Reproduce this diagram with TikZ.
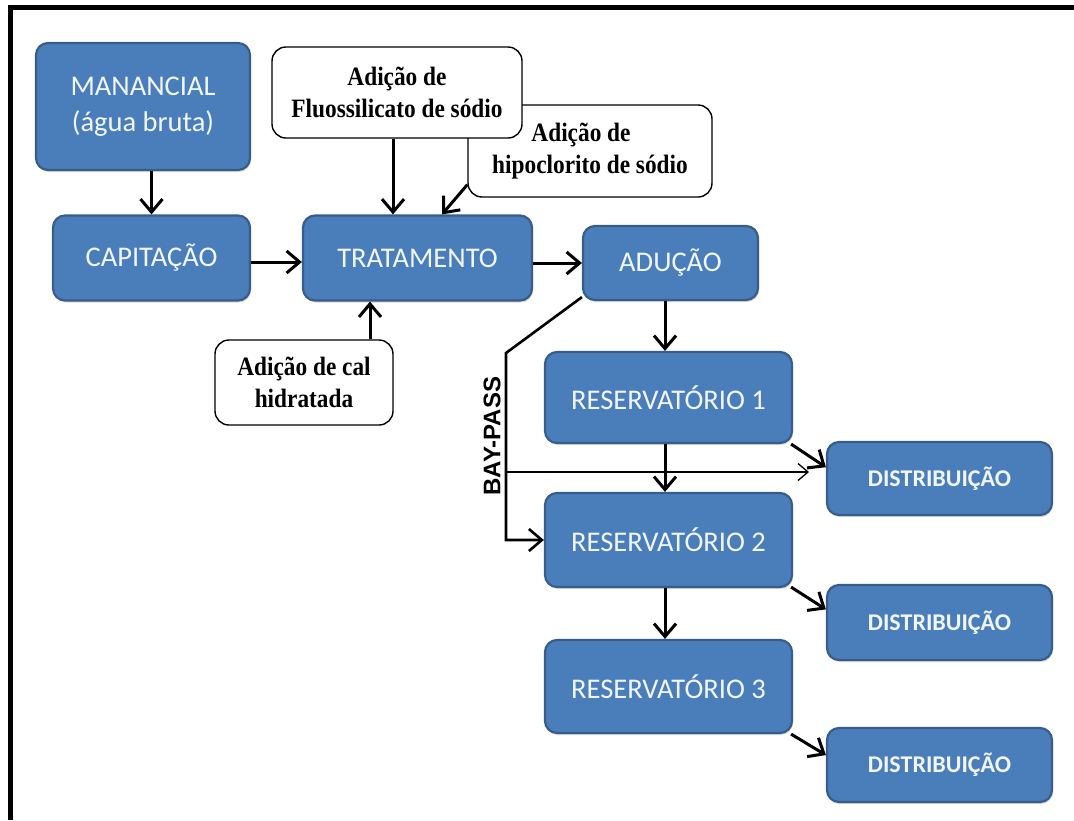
\documentclass[tikz,border=0pt]{standalone}
\usepackage{fontspec}
\setmainfont{Carlito}
\newfontfamily\serifc[FakeStretch=0.88]{Liberation Serif}
\newfontfamily\sansb{Liberation Sans}
\usetikzlibrary{arrows.meta,calc,shadows}
\definecolor{boxblue}{HTML}{4A7EBB}
\definecolor{boxedge}{HTML}{385D8A}
\definecolor{boxtext}{HTML}{F2F6FB}
\tikzset{
  bluebox/.style={draw=boxedge, line width=2.2pt, fill=boxblue, rounded corners=12pt,
    text=boxtext, align=center, inner sep=0pt,
    drop shadow={shadow xshift=1pt, shadow yshift=-2pt, opacity=0.3},
    font=\fontsize{28.5}{36}\selectfont},
  distbox/.style={bluebox, font=\bfseries\fontsize{24}{30}\selectfont},
  notebox/.style={draw=black, line width=1.4pt, fill=white, rounded corners=14pt,
    align=center, inner sep=0pt, text=black,
    font=\serifc\bfseries\fontsize{26.5}{31.5}\selectfont},
  arr/.style={draw=black, line width=3pt, -{Straight Barb[length=13pt,width=22pt]}},
  thinarr/.style={draw=black, line width=1.3pt, -{Straight Barb[length=10pt,width=17pt]}},
}
\begin{document}
\begin{tikzpicture}[x=1pt,y=-1pt]
\useasboundingbox (0,0) rectangle (1074,820);
% border (top and left edges visible)
\draw[line width=5pt] (10.5,820) -- (10.5,7.5) -- (1074,7.5);

% blue process boxes
\node[bluebox, minimum width=214pt, minimum height=127pt] (man) at (143,106.5) {MANANCIAL\\(água bruta)};
\node[bluebox, minimum width=197pt, minimum height=85pt] (cap) at (151.5,258) {CAPITAÇÃO};
\node[bluebox, minimum width=229pt, minimum height=85pt] (trat) at (417.5,258) {TRATAMENTO};
\node[bluebox, minimum width=175pt, minimum height=74pt] (adu) at (670.5,263) {ADUÇÃO};
\node[bluebox, minimum width=247pt, minimum height=91pt] (res1) at (668.5,397.5) {RESERVATÓRIO 1};
\node[bluebox, minimum width=247pt, minimum height=94pt] (res2) at (668.5,540) {RESERVATÓRIO 2};
\node[bluebox, minimum width=247pt, minimum height=93pt] (res3) at (668.5,686.5) {RESERVATÓRIO 3};
\node[distbox, minimum width=225pt, minimum height=73pt] (d1) at (939.5,478.5) {DISTRIBUIÇÃO};
\node[distbox, minimum width=225pt, minimum height=75pt] (d2) at (939.5,622.5) {DISTRIBUIÇÃO};
\node[distbox, minimum width=225pt, minimum height=74pt] (d3) at (939.5,765) {DISTRIBUIÇÃO};

% white note boxes
\node[notebox, minimum width=244pt, minimum height=92pt] (hipo) at (590,151) {Adição de\kern18pt\\hipoclorito de sódio};
\node[notebox, minimum width=250pt, minimum height=91pt] (fluo) at (397,92.5) {Adição de\\Fluossilicato de sódio};
\node[notebox, minimum width=178pt, minimum height=85pt] (cal) at (304,382.5) {Adição de cal\\hidratada};

% helper x positions
\coordinate (xa) at (393,0);
\coordinate (xb) at (442,0);
\coordinate (xc) at (370,0);
\coordinate (xr) at (665,0);
\coordinate (bp1) at (506,353);
\coordinate (bp2) at (506,472);
\coordinate (bpend) at (809,472);

% main flow
\draw[arr] (man.south -| cap.north) -- (cap.north);
\draw[arr] (cap.east |- 0,262) -- (trat.west |- 0,262);
\draw[arr] (trat.east |- adu.west) -- (adu.west);
\draw[arr] (adu.south -| xr) -- (res1.north -| xr);
\draw[arr] (res1.south -| xr) -- (res2.north -| xr);
\draw[arr] (res2.south -| xr) -- (res3.north -| xr);

% to distribution
\draw[arr] ($(res1.south east)+(-2,0)$) -- ($(d1.north west)!0.35!(d1.south west)$);
\draw[arr] ($(res2.south east)+(-2,-1)$) -- ($(d2.north west)!0.33!(d2.south west)$);
\draw[arr] ($(res3.south east)+(-2,0)$) -- ($(d3.north west)!0.37!(d3.south west)$);

% additions
\draw[arr] (fluo.south -| xa) -- (trat.north -| xa);
\draw[arr] ($(hipo.south west)+(0,-13)$) -- (trat.north -| xb);
\draw[arr] (cal.north -| xc) -- (trat.south -| xc);

% bypass
\draw[line width=2.6pt, -{Straight Barb[length=13pt,width=22pt]}] ($(adu.south west)+(0,-4)$) -- (bp1) -- (res2.west -| bp1) -- (res2.west);
\draw[thinarr] (bp2) -- (bpend);
\node[rotate=90, font=\sansb\bfseries\fontsize{24}{28}\selectfont] (bplabel) at (492,436) {BAY-PASS};
\end{tikzpicture}
\end{document}
